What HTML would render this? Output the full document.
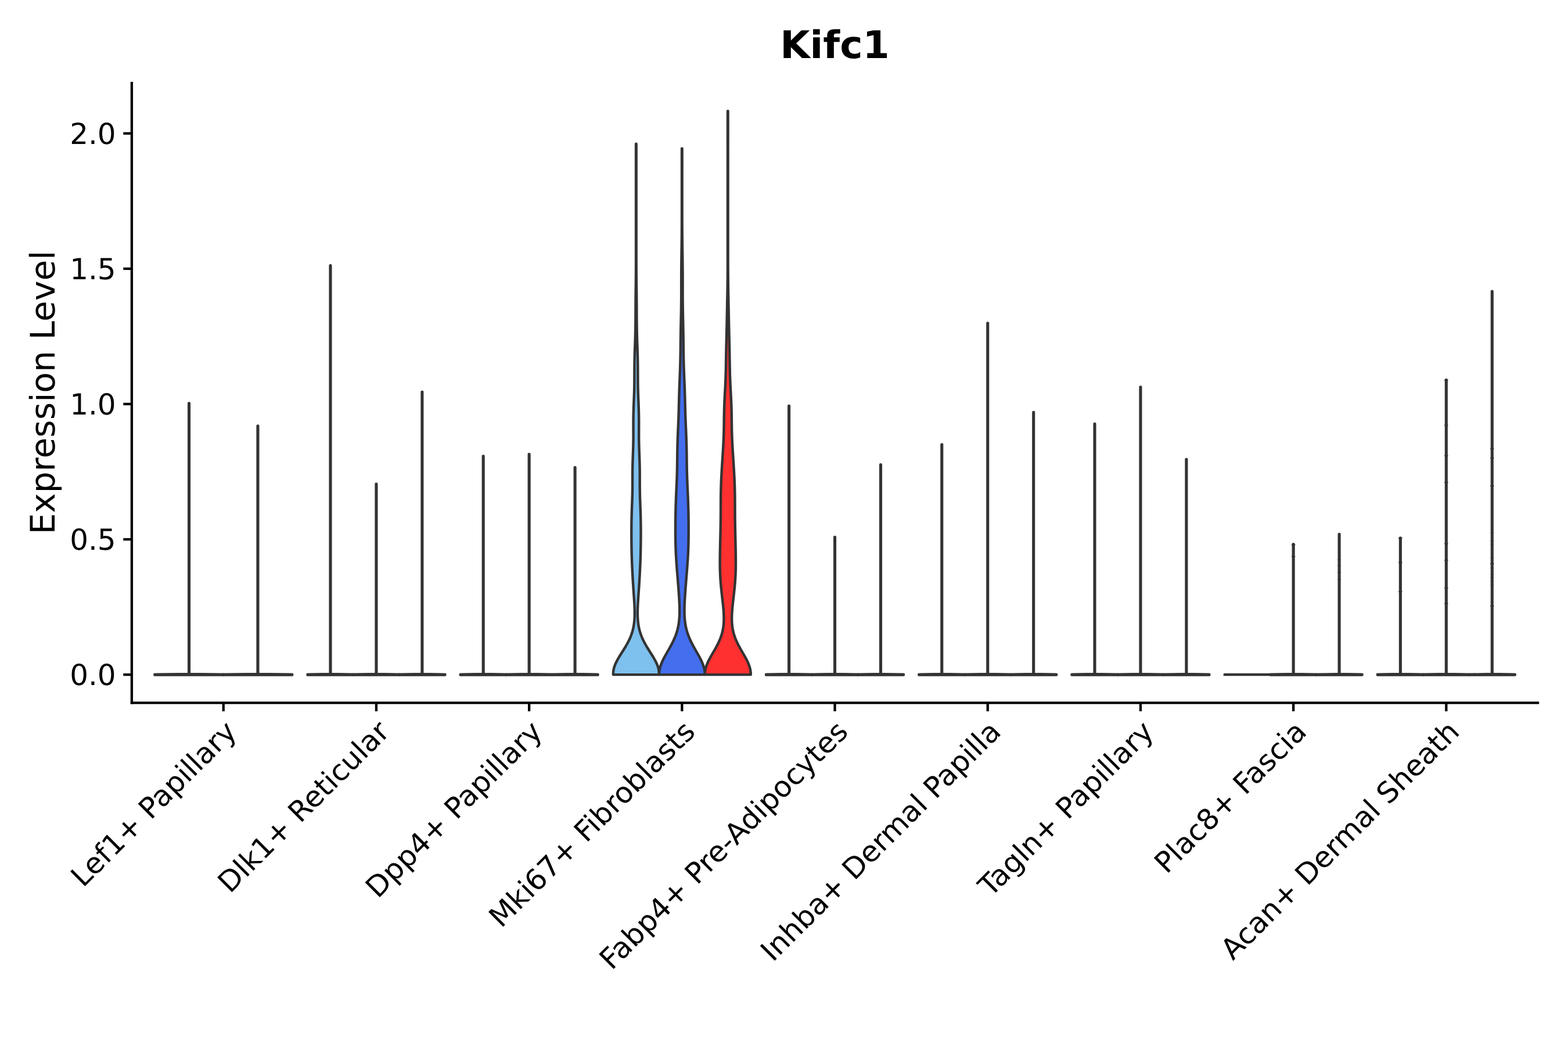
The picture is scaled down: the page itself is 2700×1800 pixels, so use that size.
<!DOCTYPE html>
<html lang="en"><head><meta charset="utf-8"><title>Kifc1</title>
<style>html,body{margin:0;padding:0;background:#fff;}body{width:2700px;height:1800px;overflow:hidden;}svg{display:block;}text{font-family:'DejaVu Sans', 'Liberation Sans', sans-serif;fill:#000;text-rendering:geometricPrecision;}</style></head><body>
<svg width="2700" height="1800" viewBox="0 0 2700 1800" role="img" aria-label="Kifc1 expression level violin plot">
<rect width="2700" height="1800" fill="#fff"/>
<g stroke="#333" stroke-width="4.4" stroke-linejoin="round" stroke-linecap="round">
<path d="M266.31 1162.55 L266.31 1161.8 L325.18 1160.95 L325.18 694.46 L325.88 694.46 L325.88 1160.95 L384.75 1161.8 L384.75 1162.55 Z" fill="#7EC0EE"/>
<path d="M384.75 1162.55 L384.75 1161.8 L443.62 1160.95 L443.62 733.52 L444.32 733.52 L444.32 1160.95 L503.19 1161.8 L503.19 1162.55 Z" fill="#436EEE"/>
<path d="M529.51 1162.55 L529.51 1161.8 L568.64 1160.95 L568.64 457.23 L569.34 457.23 L569.34 1160.95 L608.47 1161.8 L608.47 1162.55 Z" fill="#7EC0EE"/>
<path d="M608.47 1162.55 L608.47 1161.8 L647.6 1160.95 L647.6 833.51 L648.3 833.51 L648.3 1160.95 L687.43 1161.8 L687.43 1162.55 Z" fill="#436EEE"/>
<path d="M687.43 1162.55 L687.43 1161.8 L726.56 1160.95 L726.56 674.88 L727.26 674.88 L727.26 1160.95 L766.39 1161.8 L766.39 1162.55 Z" fill="#FF3030"/>
<path d="M792.71 1162.55 L792.71 1161.8 L831.84 1160.95 L831.84 785.5 L832.54 785.5 L832.54 1160.95 L871.67 1161.8 L871.67 1162.55 Z" fill="#7EC0EE"/>
<path d="M871.67 1162.55 L871.67 1161.8 L910.8 1160.95 L910.8 782.19 L911.5 782.19 L911.5 1160.95 L950.63 1161.8 L950.63 1162.55 Z" fill="#436EEE"/>
<path d="M950.63 1162.55 L950.63 1161.8 L989.76 1160.95 L989.76 804.89 L990.46 804.89 L990.46 1160.95 L1029.59 1161.8 L1029.59 1162.55 Z" fill="#FF3030"/>
<path d="M1055.91 1162.1 L1055.91 1162 L1055.88 1160.5 L1055.91 1159 L1056.01 1157.5 L1056.17 1156 L1056.4 1154.5 L1056.68 1153 L1057.02 1151.5 L1057.42 1150 L1057.88 1148.5 L1058.39 1147 L1058.95 1145.5 L1059.56 1144 L1060.22 1142.5 L1060.92 1141 L1061.66 1139.5 L1062.44 1138 L1063.24 1136.5 L1064.08 1135 L1064.95 1133.5 L1065.84 1132 L1066.74 1130.5 L1067.67 1129 L1068.6 1127.5 L1069.55 1126 L1070.49 1124.5 L1071.45 1123 L1072.4 1121.5 L1073.34 1120 L1074.28 1118.5 L1075.22 1117 L1076.13 1115.5 L1077.04 1114 L1077.93 1112.5 L1078.79 1111 L1079.64 1109.5 L1080.47 1108 L1081.27 1106.5 L1082.05 1105 L1082.8 1103.5 L1083.52 1102 L1084.22 1100.5 L1084.88 1099 L1085.52 1097.5 L1086.13 1096 L1086.7 1094.5 L1087.25 1093 L1087.77 1091.5 L1088.26 1090 L1088.72 1088.5 L1089.15 1087 L1089.55 1085.5 L1089.93 1084 L1090.28 1082.5 L1090.6 1081 L1090.9 1079.5 L1091.17 1078 L1091.41 1076.5 L1091.64 1075 L1091.84 1073.5 L1092.02 1072 L1092.18 1070.5 L1092.32 1069 L1092.44 1067.5 L1092.55 1066 L1092.63 1064.5 L1092.7 1063 L1092.76 1061.5 L1092.8 1060 L1092.83 1058.5 L1092.84 1057 L1092.85 1055.5 L1092.84 1054 L1092.82 1052.5 L1092.8 1051 L1092.76 1049.5 L1092.71 1048 L1092.66 1046.5 L1092.6 1045 L1092.54 1043.5 L1092.47 1042 L1092.39 1040.5 L1092.31 1039 L1092.22 1037.5 L1092.14 1036 L1092.04 1034.5 L1091.95 1033 L1091.85 1031.5 L1091.75 1030 L1091.65 1028.5 L1091.55 1027 L1091.45 1025.5 L1091.34 1024 L1091.24 1022.5 L1091.13 1021 L1091.03 1019.5 L1090.92 1018 L1090.82 1016.5 L1090.72 1015 L1090.61 1013.5 L1090.51 1012 L1090.41 1010.5 L1090.31 1009 L1090.22 1007.5 L1090.12 1006 L1090.02 1004.5 L1089.93 1003 L1089.84 1001.5 L1089.75 1000 L1089.73 999.7 L1089.49 995.7 L1089.27 991.7 L1089.06 987.7 L1088.86 983.7 L1088.67 979.7 L1088.49 975.7 L1088.32 971.7 L1088.16 967.7 L1088.02 963.7 L1087.89 959.7 L1087.78 955.7 L1087.67 951.7 L1087.59 947.7 L1087.51 943.7 L1087.44 939.7 L1087.39 935.7 L1087.35 931.7 L1087.32 927.7 L1087.29 923.7 L1087.28 919.7 L1087.28 915.7 L1087.29 911.7 L1087.31 907.7 L1087.35 903.7 L1087.4 899.7 L1087.47 895.7 L1087.56 891.7 L1087.66 887.7 L1087.78 883.7 L1087.92 879.7 L1088.06 875.7 L1088.21 871.7 L1088.36 867.7 L1088.5 863.7 L1088.64 859.7 L1088.76 855.7 L1088.86 851.7 L1088.94 847.7 L1089 843.7 L1089.05 839.7 L1089.07 835.7 L1089.08 831.7 L1089.08 827.7 L1089.08 823.7 L1089.08 819.7 L1089.09 815.7 L1089.12 811.7 L1089.17 807.7 L1089.23 803.7 L1089.32 799.7 L1089.43 795.7 L1089.55 791.7 L1089.69 787.7 L1089.83 783.7 L1089.98 779.7 L1090.12 775.7 L1090.25 771.7 L1090.36 767.7 L1090.45 763.7 L1090.52 759.7 L1090.57 755.7 L1090.6 751.7 L1090.61 747.7 L1090.6 743.7 L1090.59 739.7 L1090.57 735.7 L1090.56 731.7 L1090.56 727.7 L1090.57 723.7 L1090.61 719.7 L1090.66 715.7 L1090.75 711.7 L1090.85 707.7 L1090.98 703.7 L1091.12 699.7 L1091.27 695.7 L1091.43 691.7 L1091.59 687.7 L1091.75 683.7 L1091.89 679.7 L1092.02 675.7 L1092.13 671.7 L1092.22 667.7 L1092.29 663.7 L1092.34 659.7 L1092.37 655.7 L1092.39 651.7 L1092.41 647.7 L1092.42 643.7 L1092.43 639.7 L1092.44 635.7 L1092.47 631.7 L1092.51 627.7 L1092.57 623.7 L1092.64 619.7 L1092.73 615.7 L1092.83 611.7 L1092.95 607.7 L1093.08 603.7 L1093.22 599.7 L1093.36 595.7 L1093.5 591.7 L1093.63 587.7 L1093.76 583.7 L1093.87 579.7 L1093.98 575.7 L1094.07 571.7 L1094.15 567.7 L1094.21 563.7 L1094.26 559.7 L1094.3 555.7 L1094.34 551.7 L1094.36 547.7 L1094.38 543.7 L1094.4 539.7 L1094.41 535.7 L1094.43 531.7 L1094.45 527.7 L1094.48 523.7 L1094.51 519.7 L1094.54 515.7 L1094.58 511.7 L1094.62 507.7 L1094.66 503.7 L1094.7 499.7 L1094.75 495.7 L1094.79 491.7 L1094.84 487.7 L1094.88 483.7 L1094.91 479.7 L1094.95 475.7 L1094.98 471.7 L1095.01 467.7 L1095.03 463.7 L1095.05 459.7 L1095.06 455.7 L1095.07 451.7 L1095.08 447.7 L1095.09 443.7 L1095.09 439.7 L1095.09 435.7 L1095.09 431.7 L1095.09 427.7 L1095.09 423.7 L1095.09 419.7 L1095.09 415.7 L1095.09 411.7 L1095.09 407.7 L1095.09 403.7 L1095.09 399.7 L1095.09 395.7 L1095.09 391.7 L1095.09 387.7 L1095.09 383.7 L1095.09 379.7 L1095.09 375.7 L1095.09 371.7 L1095.09 367.7 L1095.09 363.7 L1095.09 359.7 L1095.09 355.7 L1095.09 351.7 L1095.09 347.7 L1095.09 343.7 L1095.09 339.7 L1095.09 335.7 L1095.09 331.7 L1095.09 327.7 L1095.09 323.7 L1095.09 319.7 L1095.09 315.7 L1095.09 311.7 L1095.09 307.7 L1095.09 303.7 L1095.09 299.7 L1095.09 295.7 L1095.09 291.7 L1095.09 287.7 L1095.09 283.7 L1095.08 279.7 L1095.08 275.7 L1095.08 271.7 L1095.08 267.7 L1095.08 263.7 L1095.08 259.7 L1095.09 255.7 L1095.09 251.7 L1095.1 247.7 L1095.68 247.7 L1095.69 251.7 L1095.69 255.7 L1095.7 259.7 L1095.7 263.7 L1095.7 267.7 L1095.7 271.7 L1095.7 275.7 L1095.7 279.7 L1095.69 283.7 L1095.69 287.7 L1095.69 291.7 L1095.69 295.7 L1095.69 299.7 L1095.69 303.7 L1095.69 307.7 L1095.69 311.7 L1095.69 315.7 L1095.69 319.7 L1095.69 323.7 L1095.69 327.7 L1095.69 331.7 L1095.69 335.7 L1095.69 339.7 L1095.69 343.7 L1095.69 347.7 L1095.69 351.7 L1095.69 355.7 L1095.69 359.7 L1095.69 363.7 L1095.69 367.7 L1095.69 371.7 L1095.69 375.7 L1095.69 379.7 L1095.69 383.7 L1095.69 387.7 L1095.69 391.7 L1095.69 395.7 L1095.69 399.7 L1095.69 403.7 L1095.69 407.7 L1095.69 411.7 L1095.69 415.7 L1095.69 419.7 L1095.69 423.7 L1095.69 427.7 L1095.69 431.7 L1095.69 435.7 L1095.69 439.7 L1095.69 443.7 L1095.7 447.7 L1095.71 451.7 L1095.72 455.7 L1095.73 459.7 L1095.75 463.7 L1095.77 467.7 L1095.8 471.7 L1095.83 475.7 L1095.87 479.7 L1095.9 483.7 L1095.94 487.7 L1095.99 491.7 L1096.03 495.7 L1096.08 499.7 L1096.12 503.7 L1096.16 507.7 L1096.2 511.7 L1096.24 515.7 L1096.27 519.7 L1096.3 523.7 L1096.33 527.7 L1096.35 531.7 L1096.37 535.7 L1096.38 539.7 L1096.4 543.7 L1096.42 547.7 L1096.44 551.7 L1096.48 555.7 L1096.52 559.7 L1096.57 563.7 L1096.63 567.7 L1096.71 571.7 L1096.8 575.7 L1096.91 579.7 L1097.02 583.7 L1097.15 587.7 L1097.28 591.7 L1097.42 595.7 L1097.56 599.7 L1097.7 603.7 L1097.83 607.7 L1097.95 611.7 L1098.05 615.7 L1098.14 619.7 L1098.21 623.7 L1098.27 627.7 L1098.31 631.7 L1098.34 635.7 L1098.35 639.7 L1098.36 643.7 L1098.37 647.7 L1098.39 651.7 L1098.41 655.7 L1098.44 659.7 L1098.49 663.7 L1098.56 667.7 L1098.65 671.7 L1098.76 675.7 L1098.89 679.7 L1099.03 683.7 L1099.19 687.7 L1099.35 691.7 L1099.51 695.7 L1099.66 699.7 L1099.8 703.7 L1099.93 707.7 L1100.03 711.7 L1100.12 715.7 L1100.17 719.7 L1100.21 723.7 L1100.22 727.7 L1100.22 731.7 L1100.21 735.7 L1100.19 739.7 L1100.18 743.7 L1100.17 747.7 L1100.18 751.7 L1100.21 755.7 L1100.26 759.7 L1100.33 763.7 L1100.42 767.7 L1100.53 771.7 L1100.66 775.7 L1100.8 779.7 L1100.95 783.7 L1101.09 787.7 L1101.23 791.7 L1101.35 795.7 L1101.46 799.7 L1101.55 803.7 L1101.61 807.7 L1101.66 811.7 L1101.69 815.7 L1101.7 819.7 L1101.7 823.7 L1101.7 827.7 L1101.7 831.7 L1101.71 835.7 L1101.73 839.7 L1101.78 843.7 L1101.84 847.7 L1101.92 851.7 L1102.02 855.7 L1102.14 859.7 L1102.28 863.7 L1102.42 867.7 L1102.57 871.7 L1102.72 875.7 L1102.86 879.7 L1103 883.7 L1103.12 887.7 L1103.22 891.7 L1103.31 895.7 L1103.38 899.7 L1103.43 903.7 L1103.47 907.7 L1103.49 911.7 L1103.5 915.7 L1103.5 919.7 L1103.49 923.7 L1103.46 927.7 L1103.43 931.7 L1103.39 935.7 L1103.34 939.7 L1103.27 943.7 L1103.19 947.7 L1103.11 951.7 L1103 955.7 L1102.89 959.7 L1102.76 963.7 L1102.62 967.7 L1102.46 971.7 L1102.29 975.7 L1102.11 979.7 L1101.92 983.7 L1101.72 987.7 L1101.51 991.7 L1101.29 995.7 L1101.05 999.7 L1101.03 1000 L1100.94 1001.5 L1100.85 1003 L1100.76 1004.5 L1100.66 1006 L1100.56 1007.5 L1100.47 1009 L1100.37 1010.5 L1100.27 1012 L1100.17 1013.5 L1100.06 1015 L1099.96 1016.5 L1099.86 1018 L1099.75 1019.5 L1099.65 1021 L1099.54 1022.5 L1099.44 1024 L1099.33 1025.5 L1099.23 1027 L1099.13 1028.5 L1099.03 1030 L1098.93 1031.5 L1098.83 1033 L1098.74 1034.5 L1098.64 1036 L1098.56 1037.5 L1098.47 1039 L1098.39 1040.5 L1098.31 1042 L1098.24 1043.5 L1098.18 1045 L1098.12 1046.5 L1098.07 1048 L1098.02 1049.5 L1097.98 1051 L1097.96 1052.5 L1097.94 1054 L1097.93 1055.5 L1097.94 1057 L1097.95 1058.5 L1097.98 1060 L1098.02 1061.5 L1098.08 1063 L1098.15 1064.5 L1098.23 1066 L1098.34 1067.5 L1098.46 1069 L1098.6 1070.5 L1098.76 1072 L1098.94 1073.5 L1099.14 1075 L1099.37 1076.5 L1099.61 1078 L1099.88 1079.5 L1100.18 1081 L1100.5 1082.5 L1100.85 1084 L1101.23 1085.5 L1101.63 1087 L1102.06 1088.5 L1102.52 1090 L1103.01 1091.5 L1103.53 1093 L1104.08 1094.5 L1104.65 1096 L1105.26 1097.5 L1105.9 1099 L1106.56 1100.5 L1107.26 1102 L1107.98 1103.5 L1108.73 1105 L1109.51 1106.5 L1110.31 1108 L1111.14 1109.5 L1111.99 1111 L1112.85 1112.5 L1113.74 1114 L1114.65 1115.5 L1115.56 1117 L1116.5 1118.5 L1117.44 1120 L1118.38 1121.5 L1119.33 1123 L1120.29 1124.5 L1121.23 1126 L1122.18 1127.5 L1123.11 1129 L1124.04 1130.5 L1124.94 1132 L1125.83 1133.5 L1126.7 1135 L1127.54 1136.5 L1128.34 1138 L1129.12 1139.5 L1129.86 1141 L1130.56 1142.5 L1131.22 1144 L1131.83 1145.5 L1132.39 1147 L1132.9 1148.5 L1133.36 1150 L1133.76 1151.5 L1134.1 1153 L1134.38 1154.5 L1134.61 1156 L1134.77 1157.5 L1134.87 1159 L1134.9 1160.5 L1134.87 1162 L1134.87 1162.1 Z" fill="#7EC0EE"/>
<path d="M1134.87 1162.1 L1134.87 1162 L1134.9 1160.5 L1134.98 1159 L1135.11 1157.5 L1135.3 1156 L1135.53 1154.5 L1135.82 1153 L1136.15 1151.5 L1136.53 1150 L1136.96 1148.5 L1137.43 1147 L1137.94 1145.5 L1138.5 1144 L1139.09 1142.5 L1139.72 1141 L1140.38 1139.5 L1141.07 1138 L1141.79 1136.5 L1142.53 1135 L1143.3 1133.5 L1144.09 1132 L1144.9 1130.5 L1145.72 1129 L1146.56 1127.5 L1147.4 1126 L1148.25 1124.5 L1149.11 1123 L1149.97 1121.5 L1150.83 1120 L1151.68 1118.5 L1152.53 1117 L1153.37 1115.5 L1154.2 1114 L1155.02 1112.5 L1155.83 1111 L1156.62 1109.5 L1157.4 1108 L1158.15 1106.5 L1158.89 1105 L1159.61 1103.5 L1160.3 1102 L1160.97 1100.5 L1161.62 1099 L1162.24 1097.5 L1162.84 1096 L1163.42 1094.5 L1163.97 1093 L1164.49 1091.5 L1164.99 1090 L1165.46 1088.5 L1165.9 1087 L1166.32 1085.5 L1166.72 1084 L1167.09 1082.5 L1167.43 1081 L1167.75 1079.5 L1168.05 1078 L1168.32 1076.5 L1168.58 1075 L1168.81 1073.5 L1169.02 1072 L1169.2 1070.5 L1169.37 1069 L1169.53 1067.5 L1169.66 1066 L1169.78 1064.5 L1169.88 1063 L1169.96 1061.5 L1170.03 1060 L1170.09 1058.5 L1170.13 1057 L1170.16 1055.5 L1170.18 1054 L1170.19 1052.5 L1170.19 1051 L1170.17 1049.5 L1170.15 1048 L1170.13 1046.5 L1170.09 1045 L1170.04 1043.5 L1169.99 1042 L1169.94 1040.5 L1169.88 1039 L1169.81 1037.5 L1169.74 1036 L1169.66 1034.5 L1169.58 1033 L1169.49 1031.5 L1169.41 1030 L1169.31 1028.5 L1169.22 1027 L1169.12 1025.5 L1169.02 1024 L1168.92 1022.5 L1168.82 1021 L1168.71 1019.5 L1168.6 1018 L1168.49 1016.5 L1168.38 1015 L1168.27 1013.5 L1168.16 1012 L1168.04 1010.5 L1167.93 1009 L1167.81 1007.5 L1167.69 1006 L1167.57 1004.5 L1167.45 1003 L1167.33 1001.5 L1167.21 1000 L1167.19 999.7 L1166.86 995.7 L1166.54 991.7 L1166.21 987.7 L1165.89 983.7 L1165.57 979.7 L1165.27 975.7 L1164.97 971.7 L1164.7 967.7 L1164.44 963.7 L1164.2 959.7 L1163.98 955.7 L1163.79 951.7 L1163.62 947.7 L1163.48 943.7 L1163.35 939.7 L1163.25 935.7 L1163.17 931.7 L1163.11 927.7 L1163.07 923.7 L1163.04 919.7 L1163.02 915.7 L1163.02 911.7 L1163.03 907.7 L1163.04 903.7 L1163.07 899.7 L1163.11 895.7 L1163.16 891.7 L1163.22 887.7 L1163.29 883.7 L1163.38 879.7 L1163.47 875.7 L1163.59 871.7 L1163.71 867.7 L1163.85 863.7 L1164 859.7 L1164.16 855.7 L1164.33 851.7 L1164.5 847.7 L1164.68 843.7 L1164.86 839.7 L1165.04 835.7 L1165.2 831.7 L1165.36 827.7 L1165.51 823.7 L1165.64 819.7 L1165.76 815.7 L1165.86 811.7 L1165.95 807.7 L1166.02 803.7 L1166.08 799.7 L1166.13 795.7 L1166.18 791.7 L1166.22 787.7 L1166.27 783.7 L1166.32 779.7 L1166.38 775.7 L1166.46 771.7 L1166.54 767.7 L1166.65 763.7 L1166.77 759.7 L1166.9 755.7 L1167.05 751.7 L1167.21 747.7 L1167.38 743.7 L1167.55 739.7 L1167.72 735.7 L1167.89 731.7 L1168.06 727.7 L1168.21 723.7 L1168.36 719.7 L1168.49 715.7 L1168.62 711.7 L1168.73 707.7 L1168.84 703.7 L1168.94 699.7 L1169.04 695.7 L1169.14 691.7 L1169.24 687.7 L1169.34 683.7 L1169.46 679.7 L1169.58 675.7 L1169.7 671.7 L1169.84 667.7 L1169.99 663.7 L1170.14 659.7 L1170.3 655.7 L1170.46 651.7 L1170.62 647.7 L1170.78 643.7 L1170.93 639.7 L1171.07 635.7 L1171.2 631.7 L1171.32 627.7 L1171.42 623.7 L1171.51 619.7 L1171.59 615.7 L1171.66 611.7 L1171.72 607.7 L1171.77 603.7 L1171.81 599.7 L1171.85 595.7 L1171.89 591.7 L1171.94 587.7 L1171.98 583.7 L1172.03 579.7 L1172.09 575.7 L1172.15 571.7 L1172.22 567.7 L1172.3 563.7 L1172.38 559.7 L1172.46 555.7 L1172.54 551.7 L1172.63 547.7 L1172.71 543.7 L1172.79 539.7 L1172.86 535.7 L1172.93 531.7 L1172.98 527.7 L1173.03 523.7 L1173.07 519.7 L1173.1 515.7 L1173.12 511.7 L1173.14 507.7 L1173.15 503.7 L1173.15 499.7 L1173.15 495.7 L1173.14 491.7 L1173.14 487.7 L1173.14 483.7 L1173.14 479.7 L1173.15 475.7 L1173.16 471.7 L1173.18 467.7 L1173.21 463.7 L1173.24 459.7 L1173.28 455.7 L1173.32 451.7 L1173.37 447.7 L1173.42 443.7 L1173.48 439.7 L1173.54 435.7 L1173.6 431.7 L1173.65 427.7 L1173.71 423.7 L1173.76 419.7 L1173.81 415.7 L1173.86 411.7 L1173.9 407.7 L1173.93 403.7 L1173.96 399.7 L1173.99 395.7 L1174.01 391.7 L1174.02 387.7 L1174.04 383.7 L1174.04 379.7 L1174.05 375.7 L1174.05 371.7 L1174.05 367.7 L1174.05 363.7 L1174.05 359.7 L1174.05 355.7 L1174.05 351.7 L1174.05 347.7 L1174.05 343.7 L1174.05 339.7 L1174.05 335.7 L1174.05 331.7 L1174.05 327.7 L1174.05 323.7 L1174.05 319.7 L1174.05 315.7 L1174.05 311.7 L1174.05 307.7 L1174.05 303.7 L1174.05 299.7 L1174.05 295.7 L1174.05 291.7 L1174.04 287.7 L1174.04 283.7 L1174.04 279.7 L1174.04 275.7 L1174.04 271.7 L1174.04 267.7 L1174.05 263.7 L1174.05 259.7 L1174.06 255.7 L1174.64 255.7 L1174.65 259.7 L1174.65 263.7 L1174.66 267.7 L1174.66 271.7 L1174.66 275.7 L1174.66 279.7 L1174.66 283.7 L1174.66 287.7 L1174.65 291.7 L1174.65 295.7 L1174.65 299.7 L1174.65 303.7 L1174.65 307.7 L1174.65 311.7 L1174.65 315.7 L1174.65 319.7 L1174.65 323.7 L1174.65 327.7 L1174.65 331.7 L1174.65 335.7 L1174.65 339.7 L1174.65 343.7 L1174.65 347.7 L1174.65 351.7 L1174.65 355.7 L1174.65 359.7 L1174.65 363.7 L1174.65 367.7 L1174.65 371.7 L1174.65 375.7 L1174.66 379.7 L1174.66 383.7 L1174.68 387.7 L1174.69 391.7 L1174.71 395.7 L1174.74 399.7 L1174.77 403.7 L1174.8 407.7 L1174.84 411.7 L1174.89 415.7 L1174.94 419.7 L1174.99 423.7 L1175.05 427.7 L1175.1 431.7 L1175.16 435.7 L1175.22 439.7 L1175.28 443.7 L1175.33 447.7 L1175.38 451.7 L1175.42 455.7 L1175.46 459.7 L1175.49 463.7 L1175.52 467.7 L1175.54 471.7 L1175.55 475.7 L1175.56 479.7 L1175.56 483.7 L1175.56 487.7 L1175.56 491.7 L1175.55 495.7 L1175.55 499.7 L1175.55 503.7 L1175.56 507.7 L1175.58 511.7 L1175.6 515.7 L1175.63 519.7 L1175.67 523.7 L1175.72 527.7 L1175.77 531.7 L1175.84 535.7 L1175.91 539.7 L1175.99 543.7 L1176.07 547.7 L1176.16 551.7 L1176.24 555.7 L1176.32 559.7 L1176.4 563.7 L1176.48 567.7 L1176.55 571.7 L1176.61 575.7 L1176.67 579.7 L1176.72 583.7 L1176.76 587.7 L1176.81 591.7 L1176.85 595.7 L1176.89 599.7 L1176.93 603.7 L1176.98 607.7 L1177.04 611.7 L1177.11 615.7 L1177.19 619.7 L1177.28 623.7 L1177.38 627.7 L1177.5 631.7 L1177.63 635.7 L1177.77 639.7 L1177.92 643.7 L1178.08 647.7 L1178.24 651.7 L1178.4 655.7 L1178.56 659.7 L1178.71 663.7 L1178.86 667.7 L1179 671.7 L1179.12 675.7 L1179.24 679.7 L1179.36 683.7 L1179.46 687.7 L1179.56 691.7 L1179.66 695.7 L1179.76 699.7 L1179.86 703.7 L1179.97 707.7 L1180.08 711.7 L1180.21 715.7 L1180.34 719.7 L1180.49 723.7 L1180.64 727.7 L1180.81 731.7 L1180.98 735.7 L1181.15 739.7 L1181.32 743.7 L1181.49 747.7 L1181.65 751.7 L1181.8 755.7 L1181.93 759.7 L1182.05 763.7 L1182.16 767.7 L1182.24 771.7 L1182.32 775.7 L1182.38 779.7 L1182.43 783.7 L1182.48 787.7 L1182.52 791.7 L1182.57 795.7 L1182.62 799.7 L1182.68 803.7 L1182.75 807.7 L1182.84 811.7 L1182.94 815.7 L1183.06 819.7 L1183.19 823.7 L1183.34 827.7 L1183.5 831.7 L1183.66 835.7 L1183.84 839.7 L1184.02 843.7 L1184.2 847.7 L1184.37 851.7 L1184.54 855.7 L1184.7 859.7 L1184.85 863.7 L1184.99 867.7 L1185.11 871.7 L1185.23 875.7 L1185.32 879.7 L1185.41 883.7 L1185.48 887.7 L1185.54 891.7 L1185.59 895.7 L1185.63 899.7 L1185.66 903.7 L1185.67 907.7 L1185.68 911.7 L1185.68 915.7 L1185.66 919.7 L1185.63 923.7 L1185.59 927.7 L1185.53 931.7 L1185.45 935.7 L1185.35 939.7 L1185.22 943.7 L1185.08 947.7 L1184.91 951.7 L1184.72 955.7 L1184.5 959.7 L1184.26 963.7 L1184 967.7 L1183.73 971.7 L1183.43 975.7 L1183.13 979.7 L1182.81 983.7 L1182.49 987.7 L1182.16 991.7 L1181.84 995.7 L1181.51 999.7 L1181.49 1000 L1181.37 1001.5 L1181.25 1003 L1181.13 1004.5 L1181.01 1006 L1180.89 1007.5 L1180.77 1009 L1180.66 1010.5 L1180.54 1012 L1180.43 1013.5 L1180.32 1015 L1180.21 1016.5 L1180.1 1018 L1179.99 1019.5 L1179.88 1021 L1179.78 1022.5 L1179.68 1024 L1179.58 1025.5 L1179.48 1027 L1179.39 1028.5 L1179.29 1030 L1179.21 1031.5 L1179.12 1033 L1179.04 1034.5 L1178.96 1036 L1178.89 1037.5 L1178.82 1039 L1178.76 1040.5 L1178.71 1042 L1178.66 1043.5 L1178.61 1045 L1178.57 1046.5 L1178.55 1048 L1178.53 1049.5 L1178.51 1051 L1178.51 1052.5 L1178.52 1054 L1178.54 1055.5 L1178.57 1057 L1178.61 1058.5 L1178.67 1060 L1178.74 1061.5 L1178.82 1063 L1178.92 1064.5 L1179.04 1066 L1179.17 1067.5 L1179.33 1069 L1179.5 1070.5 L1179.68 1072 L1179.89 1073.5 L1180.12 1075 L1180.38 1076.5 L1180.65 1078 L1180.95 1079.5 L1181.27 1081 L1181.61 1082.5 L1181.98 1084 L1182.38 1085.5 L1182.8 1087 L1183.24 1088.5 L1183.71 1090 L1184.21 1091.5 L1184.73 1093 L1185.28 1094.5 L1185.86 1096 L1186.46 1097.5 L1187.08 1099 L1187.73 1100.5 L1188.4 1102 L1189.09 1103.5 L1189.81 1105 L1190.55 1106.5 L1191.3 1108 L1192.08 1109.5 L1192.87 1111 L1193.68 1112.5 L1194.5 1114 L1195.33 1115.5 L1196.17 1117 L1197.02 1118.5 L1197.87 1120 L1198.73 1121.5 L1199.59 1123 L1200.45 1124.5 L1201.3 1126 L1202.14 1127.5 L1202.98 1129 L1203.8 1130.5 L1204.61 1132 L1205.4 1133.5 L1206.17 1135 L1206.91 1136.5 L1207.63 1138 L1208.32 1139.5 L1208.98 1141 L1209.61 1142.5 L1210.2 1144 L1210.76 1145.5 L1211.27 1147 L1211.74 1148.5 L1212.17 1150 L1212.55 1151.5 L1212.88 1153 L1213.17 1154.5 L1213.4 1156 L1213.59 1157.5 L1213.72 1159 L1213.8 1160.5 L1213.83 1162 L1213.83 1162.1 Z" fill="#436EEE"/>
<path d="M1213.83 1162.1 L1213.83 1162 L1213.84 1160.5 L1213.9 1159 L1214.02 1157.5 L1214.2 1156 L1214.43 1154.5 L1214.72 1153 L1215.06 1151.5 L1215.45 1150 L1215.89 1148.5 L1216.38 1147 L1216.92 1145.5 L1217.49 1144 L1218.11 1142.5 L1218.77 1141 L1219.46 1139.5 L1220.18 1138 L1220.93 1136.5 L1221.71 1135 L1222.51 1133.5 L1223.33 1132 L1224.16 1130.5 L1225.01 1129 L1225.87 1127.5 L1226.74 1126 L1227.61 1124.5 L1228.48 1123 L1229.35 1121.5 L1230.22 1120 L1231.08 1118.5 L1231.92 1117 L1232.76 1115.5 L1233.58 1114 L1234.39 1112.5 L1235.17 1111 L1235.94 1109.5 L1236.68 1108 L1237.4 1106.5 L1238.1 1105 L1238.77 1103.5 L1239.41 1102 L1240.02 1100.5 L1240.61 1099 L1241.16 1097.5 L1241.69 1096 L1242.19 1094.5 L1242.65 1093 L1243.09 1091.5 L1243.5 1090 L1243.88 1088.5 L1244.23 1087 L1244.55 1085.5 L1244.84 1084 L1245.1 1082.5 L1245.34 1081 L1245.55 1079.5 L1245.74 1078 L1245.9 1076.5 L1246.04 1075 L1246.16 1073.5 L1246.25 1072 L1246.32 1070.5 L1246.38 1069 L1246.41 1067.5 L1246.43 1066 L1246.43 1064.5 L1246.41 1063 L1246.38 1061.5 L1246.33 1060 L1246.27 1058.5 L1246.2 1057 L1246.12 1055.5 L1246.02 1054 L1245.92 1052.5 L1245.81 1051 L1245.69 1049.5 L1245.56 1048 L1245.42 1046.5 L1245.28 1045 L1245.14 1043.5 L1244.98 1042 L1244.83 1040.5 L1244.67 1039 L1244.5 1037.5 L1244.34 1036 L1244.17 1034.5 L1244 1033 L1243.83 1031.5 L1243.66 1030 L1243.49 1028.5 L1243.32 1027 L1243.15 1025.5 L1242.98 1024 L1242.81 1022.5 L1242.64 1021 L1242.48 1019.5 L1242.32 1018 L1242.16 1016.5 L1242 1015 L1241.85 1013.5 L1241.7 1012 L1241.56 1010.5 L1241.42 1009 L1241.29 1007.5 L1241.15 1006 L1241.03 1004.5 L1240.91 1003 L1240.79 1001.5 L1240.69 1000 L1240.63 999.2 L1240.37 995.2 L1240.16 991.2 L1239.99 987.2 L1239.85 983.2 L1239.76 979.2 L1239.7 975.2 L1239.67 971.2 L1239.67 967.2 L1239.69 963.2 L1239.73 959.2 L1239.78 955.2 L1239.84 951.2 L1239.91 947.2 L1239.99 943.2 L1240.07 939.2 L1240.16 935.2 L1240.25 931.2 L1240.34 927.2 L1240.43 923.2 L1240.51 919.2 L1240.6 915.2 L1240.68 911.2 L1240.76 907.2 L1240.83 903.2 L1240.9 899.2 L1240.95 895.2 L1240.99 891.2 L1241.02 887.2 L1241.04 883.2 L1241.06 879.2 L1241.07 875.2 L1241.07 871.2 L1241.08 867.2 L1241.1 863.2 L1241.12 859.2 L1241.16 855.2 L1241.21 851.2 L1241.28 847.2 L1241.37 843.2 L1241.48 839.2 L1241.61 835.2 L1241.76 831.2 L1241.92 827.2 L1242.1 823.2 L1242.3 819.2 L1242.51 815.2 L1242.73 811.2 L1242.96 807.2 L1243.2 803.2 L1243.45 799.2 L1243.7 795.2 L1243.95 791.2 L1244.2 787.2 L1244.46 783.2 L1244.71 779.2 L1244.96 775.2 L1245.2 771.2 L1245.42 767.2 L1245.63 763.2 L1245.82 759.2 L1246 755.2 L1246.15 751.2 L1246.27 747.2 L1246.38 743.2 L1246.47 739.2 L1246.54 735.2 L1246.59 731.2 L1246.65 727.2 L1246.69 723.2 L1246.75 719.2 L1246.81 715.2 L1246.88 711.2 L1246.97 707.2 L1247.08 703.2 L1247.21 699.2 L1247.36 695.2 L1247.53 691.2 L1247.72 687.2 L1247.92 683.2 L1248.13 679.2 L1248.34 675.2 L1248.56 671.2 L1248.76 667.2 L1248.96 663.2 L1249.15 659.2 L1249.31 655.2 L1249.47 651.2 L1249.6 647.2 L1249.72 643.2 L1249.82 639.2 L1249.9 635.2 L1249.98 631.2 L1250.05 627.2 L1250.11 623.2 L1250.18 619.2 L1250.24 615.2 L1250.31 611.2 L1250.38 607.2 L1250.46 603.2 L1250.54 599.2 L1250.62 595.2 L1250.72 591.2 L1250.81 587.2 L1250.91 583.2 L1251 579.2 L1251.1 575.2 L1251.19 571.2 L1251.28 567.2 L1251.37 563.2 L1251.46 559.2 L1251.54 555.2 L1251.62 551.2 L1251.7 547.2 L1251.78 543.2 L1251.86 539.2 L1251.93 535.2 L1252.01 531.2 L1252.09 527.2 L1252.16 523.2 L1252.24 519.2 L1252.31 515.2 L1252.39 511.2 L1252.46 507.2 L1252.53 503.2 L1252.6 499.2 L1252.66 495.2 L1252.72 491.2 L1252.77 487.2 L1252.82 483.2 L1252.86 479.2 L1252.89 475.2 L1252.92 471.2 L1252.94 467.2 L1252.96 463.2 L1252.98 459.2 L1252.99 455.2 L1253 451.2 L1253 447.2 L1253.01 443.2 L1253.01 439.2 L1253.01 435.2 L1253.01 431.2 L1253.01 427.2 L1253.01 423.2 L1253.01 419.2 L1253.01 415.2 L1253.01 411.2 L1253.01 407.2 L1253.01 403.2 L1253.01 399.2 L1253.01 395.2 L1253.01 391.2 L1253.01 387.2 L1253.01 383.2 L1253.01 379.2 L1253.01 375.2 L1253.01 371.2 L1253.01 367.2 L1253.01 363.2 L1253.01 359.2 L1253.01 355.2 L1253.01 351.2 L1253.01 347.2 L1253.01 343.2 L1253.01 339.2 L1253.01 335.2 L1253.01 331.2 L1253.01 327.2 L1253.01 323.2 L1253.01 319.2 L1253.01 315.2 L1253.01 311.2 L1253 307.2 L1253 303.2 L1253 299.2 L1253.01 295.2 L1253.01 291.2 L1253.01 287.2 L1253.01 283.2 L1253.01 279.2 L1253.01 275.2 L1253.01 271.2 L1253.02 267.2 L1253.02 263.2 L1253.02 259.2 L1253.02 255.2 L1253.01 251.2 L1253.01 247.2 L1253.01 243.2 L1253.01 239.2 L1253 235.2 L1253 231.2 L1253 227.2 L1252.99 223.2 L1252.99 219.2 L1252.99 215.2 L1253 211.2 L1253 207.2 L1253.01 203.2 L1253.01 199.2 L1253.02 195.2 L1253.04 191.2 L1253.58 191.2 L1253.6 195.2 L1253.61 199.2 L1253.61 203.2 L1253.62 207.2 L1253.62 211.2 L1253.63 215.2 L1253.63 219.2 L1253.63 223.2 L1253.62 227.2 L1253.62 231.2 L1253.62 235.2 L1253.61 239.2 L1253.61 243.2 L1253.61 247.2 L1253.61 251.2 L1253.6 255.2 L1253.6 259.2 L1253.6 263.2 L1253.6 267.2 L1253.61 271.2 L1253.61 275.2 L1253.61 279.2 L1253.61 283.2 L1253.61 287.2 L1253.61 291.2 L1253.61 295.2 L1253.62 299.2 L1253.62 303.2 L1253.62 307.2 L1253.61 311.2 L1253.61 315.2 L1253.61 319.2 L1253.61 323.2 L1253.61 327.2 L1253.61 331.2 L1253.61 335.2 L1253.61 339.2 L1253.61 343.2 L1253.61 347.2 L1253.61 351.2 L1253.61 355.2 L1253.61 359.2 L1253.61 363.2 L1253.61 367.2 L1253.61 371.2 L1253.61 375.2 L1253.61 379.2 L1253.61 383.2 L1253.61 387.2 L1253.61 391.2 L1253.61 395.2 L1253.61 399.2 L1253.61 403.2 L1253.61 407.2 L1253.61 411.2 L1253.61 415.2 L1253.61 419.2 L1253.61 423.2 L1253.61 427.2 L1253.61 431.2 L1253.61 435.2 L1253.61 439.2 L1253.61 443.2 L1253.62 447.2 L1253.62 451.2 L1253.63 455.2 L1253.64 459.2 L1253.66 463.2 L1253.68 467.2 L1253.7 471.2 L1253.73 475.2 L1253.76 479.2 L1253.8 483.2 L1253.85 487.2 L1253.9 491.2 L1253.96 495.2 L1254.02 499.2 L1254.09 503.2 L1254.16 507.2 L1254.23 511.2 L1254.31 515.2 L1254.38 519.2 L1254.46 523.2 L1254.53 527.2 L1254.61 531.2 L1254.69 535.2 L1254.76 539.2 L1254.84 543.2 L1254.92 547.2 L1255 551.2 L1255.08 555.2 L1255.16 559.2 L1255.25 563.2 L1255.34 567.2 L1255.43 571.2 L1255.52 575.2 L1255.62 579.2 L1255.71 583.2 L1255.81 587.2 L1255.9 591.2 L1256 595.2 L1256.08 599.2 L1256.16 603.2 L1256.24 607.2 L1256.31 611.2 L1256.38 615.2 L1256.44 619.2 L1256.51 623.2 L1256.57 627.2 L1256.64 631.2 L1256.72 635.2 L1256.8 639.2 L1256.9 643.2 L1257.02 647.2 L1257.15 651.2 L1257.31 655.2 L1257.47 659.2 L1257.66 663.2 L1257.86 667.2 L1258.06 671.2 L1258.28 675.2 L1258.49 679.2 L1258.7 683.2 L1258.9 687.2 L1259.09 691.2 L1259.26 695.2 L1259.41 699.2 L1259.54 703.2 L1259.65 707.2 L1259.74 711.2 L1259.81 715.2 L1259.87 719.2 L1259.93 723.2 L1259.97 727.2 L1260.03 731.2 L1260.08 735.2 L1260.15 739.2 L1260.24 743.2 L1260.35 747.2 L1260.47 751.2 L1260.62 755.2 L1260.8 759.2 L1260.99 763.2 L1261.2 767.2 L1261.42 771.2 L1261.66 775.2 L1261.91 779.2 L1262.16 783.2 L1262.42 787.2 L1262.67 791.2 L1262.92 795.2 L1263.17 799.2 L1263.42 803.2 L1263.66 807.2 L1263.89 811.2 L1264.11 815.2 L1264.32 819.2 L1264.52 823.2 L1264.7 827.2 L1264.86 831.2 L1265.01 835.2 L1265.14 839.2 L1265.25 843.2 L1265.34 847.2 L1265.41 851.2 L1265.46 855.2 L1265.5 859.2 L1265.52 863.2 L1265.54 867.2 L1265.55 871.2 L1265.55 875.2 L1265.56 879.2 L1265.58 883.2 L1265.6 887.2 L1265.63 891.2 L1265.67 895.2 L1265.72 899.2 L1265.79 903.2 L1265.86 907.2 L1265.94 911.2 L1266.02 915.2 L1266.11 919.2 L1266.19 923.2 L1266.28 927.2 L1266.37 931.2 L1266.46 935.2 L1266.55 939.2 L1266.63 943.2 L1266.71 947.2 L1266.78 951.2 L1266.84 955.2 L1266.89 959.2 L1266.93 963.2 L1266.95 967.2 L1266.95 971.2 L1266.92 975.2 L1266.86 979.2 L1266.77 983.2 L1266.63 987.2 L1266.46 991.2 L1266.25 995.2 L1265.99 999.2 L1265.93 1000 L1265.83 1001.5 L1265.71 1003 L1265.59 1004.5 L1265.47 1006 L1265.33 1007.5 L1265.2 1009 L1265.06 1010.5 L1264.92 1012 L1264.77 1013.5 L1264.62 1015 L1264.46 1016.5 L1264.3 1018 L1264.14 1019.5 L1263.98 1021 L1263.81 1022.5 L1263.64 1024 L1263.47 1025.5 L1263.3 1027 L1263.13 1028.5 L1262.96 1030 L1262.79 1031.5 L1262.62 1033 L1262.45 1034.5 L1262.28 1036 L1262.12 1037.5 L1261.95 1039 L1261.79 1040.5 L1261.64 1042 L1261.48 1043.5 L1261.34 1045 L1261.2 1046.5 L1261.06 1048 L1260.93 1049.5 L1260.81 1051 L1260.7 1052.5 L1260.6 1054 L1260.5 1055.5 L1260.42 1057 L1260.35 1058.5 L1260.29 1060 L1260.24 1061.5 L1260.21 1063 L1260.19 1064.5 L1260.19 1066 L1260.21 1067.5 L1260.24 1069 L1260.3 1070.5 L1260.37 1072 L1260.46 1073.5 L1260.58 1075 L1260.72 1076.5 L1260.88 1078 L1261.07 1079.5 L1261.28 1081 L1261.52 1082.5 L1261.78 1084 L1262.07 1085.5 L1262.39 1087 L1262.74 1088.5 L1263.12 1090 L1263.53 1091.5 L1263.97 1093 L1264.43 1094.5 L1264.93 1096 L1265.46 1097.5 L1266.01 1099 L1266.6 1100.5 L1267.21 1102 L1267.85 1103.5 L1268.52 1105 L1269.22 1106.5 L1269.94 1108 L1270.68 1109.5 L1271.45 1111 L1272.23 1112.5 L1273.04 1114 L1273.86 1115.5 L1274.7 1117 L1275.54 1118.5 L1276.4 1120 L1277.27 1121.5 L1278.14 1123 L1279.01 1124.5 L1279.88 1126 L1280.75 1127.5 L1281.61 1129 L1282.46 1130.5 L1283.29 1132 L1284.11 1133.5 L1284.91 1135 L1285.69 1136.5 L1286.44 1138 L1287.16 1139.5 L1287.85 1141 L1288.51 1142.5 L1289.13 1144 L1289.7 1145.5 L1290.24 1147 L1290.73 1148.5 L1291.17 1150 L1291.56 1151.5 L1291.9 1153 L1292.19 1154.5 L1292.42 1156 L1292.6 1157.5 L1292.72 1159 L1292.78 1160.5 L1292.79 1162 L1292.79 1162.1 Z" fill="#FF3030"/>
<path d="M1319.11 1162.55 L1319.11 1161.8 L1358.24 1160.95 L1358.24 698.89 L1358.94 698.89 L1358.94 1160.95 L1398.07 1161.8 L1398.07 1162.55 Z" fill="#7EC0EE"/>
<path d="M1398.07 1162.55 L1398.07 1161.8 L1437.2 1160.95 L1437.2 924.88 L1437.9 924.88 L1437.9 1160.95 L1477.03 1161.8 L1477.03 1162.55 Z" fill="#436EEE"/>
<path d="M1477.03 1162.55 L1477.03 1161.8 L1516.16 1160.95 L1516.16 800.18 L1516.86 800.18 L1516.86 1160.95 L1555.99 1161.8 L1555.99 1162.55 Z" fill="#FF3030"/>
<path d="M1582.31 1162.55 L1582.31 1161.8 L1621.44 1160.95 L1621.44 765.5 L1622.14 765.5 L1622.14 1160.95 L1661.27 1161.8 L1661.27 1162.55 Z" fill="#7EC0EE"/>
<path d="M1661.27 1162.55 L1661.27 1161.8 L1700.4 1160.95 L1700.4 556.48 L1701.1 556.48 L1701.1 1160.95 L1740.23 1161.8 L1740.23 1162.55 Z" fill="#436EEE"/>
<path d="M1740.23 1162.55 L1740.23 1161.8 L1779.36 1160.95 L1779.36 709.89 L1780.06 709.89 L1780.06 1160.95 L1819.19 1161.8 L1819.19 1162.55 Z" fill="#FF3030"/>
<path d="M1845.51 1162.55 L1845.51 1161.8 L1884.64 1160.95 L1884.64 729.89 L1885.34 729.89 L1885.34 1160.95 L1924.47 1161.8 L1924.47 1162.55 Z" fill="#7EC0EE"/>
<path d="M1924.47 1162.55 L1924.47 1161.8 L1963.6 1160.95 L1963.6 666.49 L1964.3 666.49 L1964.3 1160.95 L2003.43 1161.8 L2003.43 1162.55 Z" fill="#436EEE"/>
<path d="M2003.43 1162.55 L2003.43 1161.8 L2042.56 1160.95 L2042.56 790.9 L2043.26 790.9 L2043.26 1160.95 L2082.39 1161.8 L2082.39 1162.55 Z" fill="#FF3030"/>
<path d="M2108.71 1162.05 H2187.67 V1162.15 H2108.71 Z" fill="#7EC0EE"/>
<path d="M2187.67 1162.55 L2187.67 1161.8 L2226.8 1160.95 L2226.8 937.18 L2227.5 937.18 L2227.5 1160.95 L2266.63 1161.8 L2266.63 1162.55 Z" fill="#436EEE"/>
<path d="M2266.63 1162.55 L2266.63 1161.8 L2305.76 1160.95 L2305.76 919.89 L2306.46 919.89 L2306.46 1160.95 L2345.59 1161.8 L2345.59 1162.55 Z" fill="#FF3030"/>
<path d="M2371.91 1162.55 L2371.91 1161.8 L2411.04 1160.95 L2411.04 926.51 L2411.74 926.51 L2411.74 1160.95 L2450.87 1161.8 L2450.87 1162.55 Z" fill="#7EC0EE"/>
<path d="M2450.87 1162.55 L2450.87 1161.8 L2490 1160.95 L2490 654.23 L2490.7 654.23 L2490.7 1160.95 L2529.83 1161.8 L2529.83 1162.55 Z" fill="#436EEE"/>
<path d="M2529.83 1162.55 L2529.83 1161.8 L2568.96 1160.95 L2568.96 501.71 L2569.66 501.71 L2569.66 1160.95 L2608.79 1161.8 L2608.79 1162.55 Z" fill="#FF3030"/>
</g>
<g fill="#333">
<ellipse cx="2227.15" cy="938.2" rx="3.25" ry="1.7"/>
<ellipse cx="2227.15" cy="958.6" rx="3.25" ry="1.7"/>
<ellipse cx="2306.11" cy="964.2" rx="2.84" ry="1.45"/>
<ellipse cx="2306.11" cy="974.5" rx="2.84" ry="1.45"/>
<ellipse cx="2306.11" cy="986.2" rx="2.84" ry="1.45"/>
<ellipse cx="2306.11" cy="998" rx="2.84" ry="1.45"/>
<ellipse cx="2411.39" cy="926.9" rx="3.25" ry="1.7"/>
<ellipse cx="2411.39" cy="969" rx="3.25" ry="1.7"/>
<ellipse cx="2411.39" cy="1019" rx="3.25" ry="1.7"/>
<ellipse cx="2490.35" cy="654.8" rx="3.25" ry="1.7"/>
<ellipse cx="2490.35" cy="732.5" rx="3.25" ry="1.7"/>
<ellipse cx="2490.35" cy="785" rx="3.25" ry="1.7"/>
<ellipse cx="2490.35" cy="831" rx="3.25" ry="1.7"/>
<ellipse cx="2490.35" cy="936.5" rx="3.25" ry="1.7"/>
<ellipse cx="2490.35" cy="965" rx="3.25" ry="1.7"/>
<ellipse cx="2490.35" cy="1013" rx="3.25" ry="1.7"/>
<ellipse cx="2490.35" cy="1039.5" rx="3.25" ry="1.7"/>
<ellipse cx="2569.31" cy="773" rx="3.25" ry="1.7"/>
<ellipse cx="2569.31" cy="788.8" rx="3.25" ry="1.7"/>
<ellipse cx="2569.31" cy="837" rx="3.25" ry="1.7"/>
<ellipse cx="2569.31" cy="971" rx="3.25" ry="1.7"/>
<ellipse cx="2569.31" cy="1044" rx="3.25" ry="1.7"/>
<ellipse cx="2569.31" cy="917.8" rx="2.84" ry="1.45"/>
<ellipse cx="2569.31" cy="931.9" rx="2.84" ry="1.45"/>
<ellipse cx="2569.31" cy="938" rx="2.84" ry="1.45"/>
<ellipse cx="2569.31" cy="961" rx="2.84" ry="1.45"/>
<ellipse cx="2569.31" cy="978.5" rx="2.84" ry="1.45"/>
<ellipse cx="2569.31" cy="989" rx="2.84" ry="1.45"/>
<ellipse cx="2569.31" cy="994.7" rx="2.84" ry="1.45"/>
<ellipse cx="2569.31" cy="1001.7" rx="2.84" ry="1.45"/>
<ellipse cx="2569.31" cy="1008" rx="2.84" ry="1.45"/>
</g>
<g stroke="#000" stroke-width="4.3" fill="none" stroke-linecap="butt">
<path d="M226.9 140.9 V1212.75"/>
<path d="M224.75 1210.6 H2650.2"/>
<path d="M212.32 1162.1 H226.9"/>
<path d="M212.32 929.02 H226.9"/>
<path d="M212.32 695.95 H226.9"/>
<path d="M212.32 462.88 H226.9"/>
<path d="M212.32 229.8 H226.9"/>
<path d="M384.75 1210.6 V1225.18"/>
<path d="M647.95 1210.6 V1225.18"/>
<path d="M911.15 1210.6 V1225.18"/>
<path d="M1174.35 1210.6 V1225.18"/>
<path d="M1437.55 1210.6 V1225.18"/>
<path d="M1700.75 1210.6 V1225.18"/>
<path d="M1963.95 1210.6 V1225.18"/>
<path d="M2227.15 1210.6 V1225.18"/>
<path d="M2490.35 1210.6 V1225.18"/>
</g>
<g font-size="50px" text-anchor="end">
<text x="199.7" y="1180.3">0.0</text>
<text x="199.7" y="947.22">0.5</text>
<text x="199.7" y="714.15">1.0</text>
<text x="199.7" y="481.07">1.5</text>
<text x="199.7" y="248">2.0</text>
</g>
<g font-size="50px" text-anchor="end">
<text transform="translate(410.05 1263) rotate(-45) scale(1 0.988)">Lef1+ Papillary</text>
<text transform="translate(673.25 1263) rotate(-45) scale(1 0.988)">Dlk1+ Reticular</text>
<text transform="translate(936.45 1263) rotate(-45) scale(1 0.988)">Dpp4+ Papillary</text>
<text transform="translate(1199.65 1263) rotate(-45) scale(1 0.988)">Mki67+ Fibroblasts</text>
<text transform="translate(1462.85 1263) rotate(-45) scale(1 0.988)">Fabp4+ Pre-Adipocytes</text>
<text transform="translate(1726.05 1263) rotate(-45) scale(1 0.988)">Inhba+ Dermal Papilla</text>
<text transform="translate(1989.25 1263) rotate(-45) scale(1 0.988)">Tagln+ Papillary</text>
<text transform="translate(2252.45 1263) rotate(-45) scale(1 0.988)">Plac8+ Fascia</text>
<text transform="translate(2515.65 1263) rotate(-45) scale(1 0.988)">Acan+ Dermal Sheath</text>
</g>
<text transform="translate(93.8 676.05) rotate(-90)" font-size="58.33px" text-anchor="middle">Expression Level</text>
<text transform="translate(1437.45 99.6) scale(1 0.988)" font-size="66.4px" font-weight="bold" text-anchor="middle">Kifc1</text>
</svg></body></html>
